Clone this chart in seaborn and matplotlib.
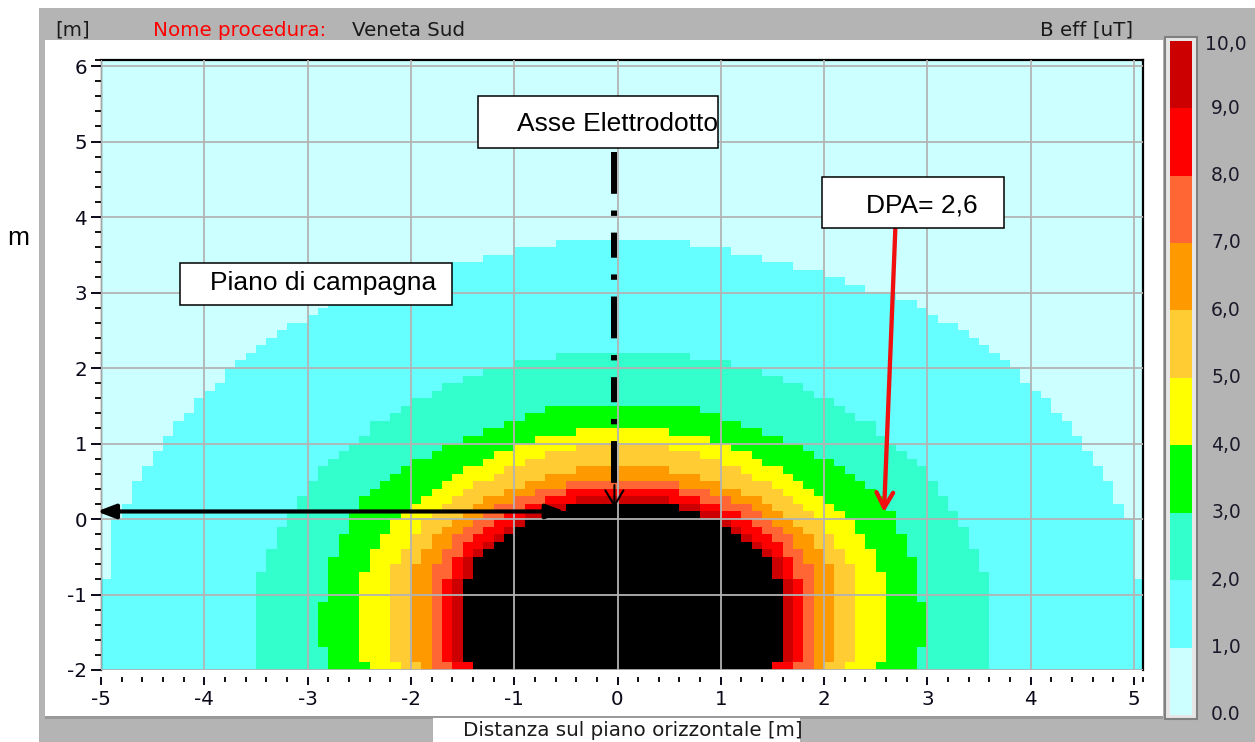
import numpy as np
import pandas as pd
import matplotlib
matplotlib.use("Agg")
import matplotlib.pyplot as plt
import seaborn as sns
from matplotlib.colors import ListedColormap
from matplotlib.patches import Rectangle

# ---------------- data ----------------
x_samples = np.round(np.linspace(-5.0, 5.0, 101), 1)   # m, 0.1 m cells
y_samples = np.round(np.linspace(6.0, -2.0, 81), 1)    # m, 0.1 m cells

# half-width (number of 0.1 m cells each side of x = 0) of the zone where
# B eff >= level; one value per row, from y = -2.0 m upward in 0.1 m steps
hw_ge1 = [50]*12 + [49]*8 + [48, 48, 47, 47, 47, 46, 46, 45, 45, 44, 44, 43, 43, 42,
                             41, 41, 40, 39, 38, 38, 37, 36, 35, 34, 33, 32, 30, 29,
                             28, 26, 23, 21, 19, 16, 13, 10, 6]
hw_ge2 = [35]*13 + [34, 34, 34, 33, 33, 33, 32, 32, 31, 31, 30, 30, 29, 29, 28, 27,
                    26, 25, 24, 24, 22, 21, 20, 18, 17, 15, 13, 10, 6]
hw_ge3 = [28, 28, 28, 29, 29, 29, 29, 29, 29, 28, 28, 28, 28, 28, 28, 27, 27, 27,
          26, 26, 26, 25, 25, 24, 23, 22, 21, 20, 18, 17, 15, 13, 11, 9, 7]
hw_ge4 = [24] + [25]*12 + [24, 24, 24, 23, 23, 22, 22, 21, 20, 19, 18, 17, 16, 15,
                           13, 12, 10, 8, 4]
hw_ge5 = [21] + [22]*13 + [21, 21, 20, 20, 19, 19, 18, 17, 16, 15, 14, 12, 11, 9, 7, 4]
hw_ge6 = [19] + [20]*13 + [19, 19, 18, 18, 17, 16, 15, 14, 13, 11, 9, 7, 4]
hw_ge7 = [18] + [18]*13 + [17, 17, 16, 16, 15, 14, 13, 12, 10, 8, 5]
hw_ge8 = [16] + [17]*11 + [16, 16, 16, 15, 15, 14, 13, 12, 11, 9, 7, 5]
hw_ge9 = [14] + [16]*11 + [15, 15, 15, 14, 13, 12, 11, 10, 9, 7, 4]
hw_ge10 = [14] + [15]*11 + [14, 14, 14, 13, 12, 11, 10, 9, 7, 5]

band_colors = ["#ccffff", "#66ffff", "#33ffcc", "#00ff00", "#ffff00",
               "#ffcc33", "#ff9900", "#ff6633", "#ff0000", "#cc0000"]
over_color = "#000000"
cbar_labels = ["0.0", "1,0", "2,0", "3,0", "4,0", "5,0", "6,0", "7,0", "8,0", "9,0", "10,0"]
x_ticks = [-5, -4, -3, -2, -1, 0, 1, 2, 3, 4, 5]
y_ticks = [-2, -1, 0, 1, 2, 3, 4, 5, 6]

dpa_value = 2.6
axis_x = -0.03
ground_arrow = (-5.04, -0.51, 0.1)      # x from, x to, y (m)
dpa_arrow = (2.69, 3.86, 2.58, 0.09)    # x0, y0, x1, y1 (m)
axis_line = (4.86, 0.25, 0.15)          # y top, y end of dashes, arrow tip

# ---------------- build the cell grid ----------------
profiles = [hw_ge1, hw_ge2, hw_ge3, hw_ge4, hw_ge5,
            hw_ge6, hw_ge7, hw_ge8, hw_ge9, hw_ge10]
n_rows, n_cols = len(y_samples), len(x_samples)
col_idx = np.abs(np.arange(n_cols) - (n_cols // 2))
grid = np.zeros((n_rows, n_cols), dtype=int)
for level, hw in enumerate(profiles, start=1):
    for j, yv in enumerate(y_samples):
        r = int(round((yv + 2.0) * 10))
        if r < len(hw):
            inside = col_idx <= hw[r]
            grid[j, inside] = np.maximum(grid[j, inside], level)
field = pd.DataFrame(grid, index=y_samples, columns=x_samples)

# ---------------- figure ----------------
sns.set_theme(style="white")
plt.rcParams["font.family"] = ["DejaVu Sans"]
W, H = 1255, 742
fig = plt.figure(figsize=(W / 100, H / 100), dpi=100, facecolor="white")


def frect(x0, y0, x1, y1):
    return [x0 / W, 1 - y1 / H, (x1 - x0) / W, (y1 - y0) / H]


def fpt(px, py):
    return px / W, 1 - py / H


def add_rect(x0, y0, x1, y1, z, **kw):
    fig.add_artist(Rectangle((x0 / W, 1 - y1 / H), (x1 - x0) / W, (y1 - y0) / H,
                             transform=fig.transFigure, zorder=z, **kw))


# window chrome
add_rect(39, 8, 1255, 742, -20, facecolor="#b4b4b4", edgecolor="none")
add_rect(45, 40, 1163, 717, -19, facecolor="white", edgecolor="none")
add_rect(45, 716, 1163, 719, -18, facecolor="#9a9a9a", edgecolor="none")
add_rect(433, 718, 800, 742, -17, facecolor="white", edgecolor="none")

# main map
ax = fig.add_axes(frect(101, 60, 1143, 670))
cmap = ListedColormap(band_colors + [over_color])
sns.heatmap(field, ax=ax, cmap=cmap, vmin=-0.5, vmax=10.5, cbar=False,
            xticklabels=False, yticklabels=False, linewidths=0)


def hx(x):
    return (x + 5.0) * 10.0


def hy(y):
    return (6.1 - y) * 10.0


ax.set_xlim(0, hx(5.087))
ax.set_ylim(hy(-2.0), hy(6.08))

for v in x_ticks:
    ax.axvline(hx(v), color="#b3b3b3", lw=1.3, zorder=3)
for v in y_ticks:
    ax.axhline(hy(v), color="#b3b3b3", lw=1.3, zorder=3)

for s in ax.spines.values():
    s.set_visible(True)
ax.spines["top"].set_color("black")
ax.spines["top"].set_linewidth(1.6)
ax.spines["right"].set_color("black")
ax.spines["right"].set_linewidth(1.6)
ax.spines["left"].set_color("#404040")
ax.spines["left"].set_linewidth(1.0)
ax.spines["bottom"].set_position(("outward", 5))
ax.spines["bottom"].set_color("none")

ax.set_xticks([hx(v) for v in x_ticks])
ax.set_xticklabels([str(v) for v in x_ticks])
ax.set_xticks([hx(v / 10) for v in range(-50, 51, 2)] + [hx(5.087)], minor=True)
ax.set_yticks([hy(v) for v in y_ticks])
ax.set_yticklabels([str(v) for v in y_ticks])
ax.set_yticks([hy(v / 10) for v in range(-20, 61, 2)] + [hy(6.08)], minor=True)
ax.tick_params(axis="x", which="major", direction="out", length=5.8, width=1.4,
               pad=3.6, labelsize=14.3, colors="#0a0a1a", bottom=True)
ax.tick_params(axis="x", which="minor", direction="out", length=3.6, width=1.4,
               colors="#111111", bottom=True)
ax.tick_params(axis="y", which="major", direction="out", length=7.5, width=1.4,
               pad=2.5, labelsize=14.3, colors="#0a0a1a", left=True)
ax.tick_params(axis="y", which="minor", direction="out", length=4.3, width=1.4,
               colors="#111111", left=True)

# axis of the power line (dash-dot) with arrow head
ax.plot([hx(axis_x), hx(axis_x)], [hy(axis_line[0]), hy(axis_line[1])],
        color="black", lw=4.3, linestyle=(0, (7.0, 2.8, 0.9, 2.8, 4.2, 2.8, 0.9, 2.8)),
        solid_capstyle="butt", zorder=5)
ax.annotate("", xy=(hx(axis_x), hy(axis_line[2])),
            xytext=(hx(axis_x), hy(axis_line[2] + 0.3)),
            arrowprops=dict(arrowstyle="->,head_length=11,head_width=6.5",
                            mutation_scale=1, lw=1.5, color="black",
                            shrinkA=0, shrinkB=0), zorder=5)

# ground level double arrow
ax.annotate("", xy=(hx(ground_arrow[0]), hy(ground_arrow[2])),
            xytext=(hx(ground_arrow[1]), hy(ground_arrow[2])),
            arrowprops=dict(arrowstyle="<|-|>,head_length=11,head_width=4.2",
                            mutation_scale=1, lw=3.0, color="black",
                            shrinkA=0, shrinkB=0), zorder=5, annotation_clip=False)

# DPA arrow
ax.annotate("", xy=(hx(dpa_arrow[2]), hy(dpa_arrow[3])),
            xytext=(hx(dpa_arrow[0]), hy(dpa_arrow[1])),
            arrowprops=dict(arrowstyle="->,head_length=11,head_width=6",
                            mutation_scale=1, lw=3.1, color="#f01010",
                            shrinkA=0, shrinkB=0), zorder=5)

# annotation boxes
add_rect(478, 96, 718, 148, 10, facecolor="white", edgecolor="black", lw=1.1)
add_rect(822, 177, 1004, 228, 10, facecolor="white", edgecolor="black", lw=1.1)
add_rect(180, 263, 452, 305, 10, facecolor="white", edgecolor="black", lw=1.1)
box_font = dict(family="Liberation Sans", fontsize=19, color="black", zorder=11,
                va="center", ha="left")
fig.text(*fpt(517, 124), "Asse Elettrodotto", **box_font)
fig.text(*fpt(866, 205), f"DPA= {str(dpa_value).replace('.', ',')}", **box_font)
fig.text(*fpt(210, 283), "Piano di campagna", **box_font)
fig.text(*fpt(18, 238), "m", family="Liberation Sans", fontsize=19,
         ha="center", va="center", color="black")

# header texts
head = dict(fontsize=14.3, va="center", zorder=11)
fig.text(*fpt(55, 30), "[m]", color="#1a1a1a", ha="left", **head)
fig.text(*fpt(153, 30), "Nome procedura:", color="#ff0000", ha="left", **head)
fig.text(*fpt(352, 30), "Veneta Sud", color="#1a1a1a", ha="left", **head)
fig.text(*fpt(1133, 30), "B eff [uT]", color="#1a1a1a", ha="right", **head)
fig.text(*fpt(463, 731), "Distanza sul piano orizzontale [m]", color="#1a1a1a",
         ha="left", **head)

# colour scale
add_rect(1165, 37, 1197, 719, -5, facecolor="#e6e6e6", edgecolor="#808080", lw=1.5)
cax = fig.add_axes(frect(1170, 40.7, 1192, 715))
scale = pd.DataFrame(np.arange(len(band_colors))[::-1].reshape(-1, 1))
sns.heatmap(scale, ax=cax, cmap=ListedColormap(band_colors), vmin=-0.5,
            vmax=len(band_colors) - 0.5, cbar=False, xticklabels=False,
            yticklabels=False, linewidths=0)
cax.set_xticks([])
cax.set_yticks([])
step = (715 - 40.7) / (len(cbar_labels) - 1)
for k, lab in enumerate(cbar_labels[::-1]):
    py = 40.7 + k * step + (4 if k == 0 else 0)
    fig.text(*fpt(1226, py), lab, fontsize=13.5, color="#1a1a2a",
             ha="center", va="center", zorder=11)
add_rect(1197, 720, 1255, 742, 12, facecolor="#b4b4b4", edgecolor="none")

fig.savefig("out.png", dpi=100, facecolor="white")
